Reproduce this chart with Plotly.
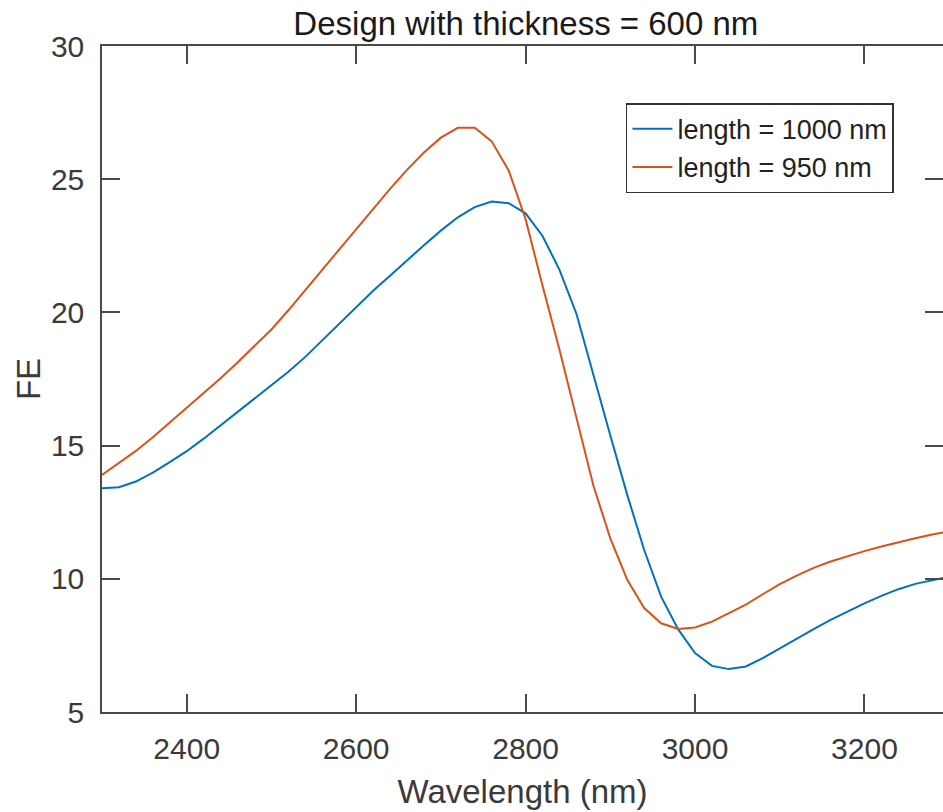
import plotly.graph_objects as go

wavelength = [2300, 2320, 2340, 2360, 2380, 2400, 2420, 2440, 2460, 2480,
              2500, 2520, 2540, 2560, 2580, 2600, 2620, 2640, 2660, 2680,
              2700, 2720, 2740, 2760, 2780, 2800, 2820, 2840, 2860, 2880,
              2900, 2920, 2940, 2960, 2980, 3000, 3020, 3040, 3060, 3080,
              3100, 3120, 3140, 3160, 3180, 3200, 3220, 3240, 3260, 3280, 3300]

fe_len1000 = [13.40, 13.44, 13.65, 13.99, 14.38, 14.79, 15.26, 15.76, 16.24, 16.74,
              17.24, 17.77, 18.33, 18.95, 19.60, 20.22, 20.81, 21.38, 21.96, 22.52,
              23.07, 23.57, 23.95, 24.16, 24.10, 23.72, 22.87, 21.60, 19.95, 17.62,
              15.38, 13.15, 11.08, 9.33, 8.11, 7.21, 6.73, 6.61, 6.71, 7.02,
              7.39, 7.76, 8.11, 8.46, 8.78, 9.08, 9.36, 9.61, 9.81, 9.96, 10.08]

fe_len950 = [13.90, 14.34, 14.80, 15.31, 15.86, 16.40, 16.95, 17.53, 18.12, 18.73,
             19.36, 20.08, 20.84, 21.60, 22.37, 23.12, 23.88, 24.64, 25.35, 26.00,
             26.56, 26.93, 26.93, 26.42, 25.33, 23.50, 21.00, 18.60, 16.05, 13.50,
             11.52, 9.96, 8.90, 8.33, 8.12, 8.17, 8.39, 8.71, 9.03, 9.42,
             9.80, 10.12, 10.41, 10.65, 10.85, 11.04, 11.21, 11.37, 11.52, 11.66, 11.78]

x_ticks = [2400, 2600, 2800, 3000, 3200]
y_ticks = [5, 10, 15, 20, 25, 30]

FONT = "Liberation Sans, Arial, Helvetica, sans-serif"
AX = "#4a4a4a"
TXT = "#3a3a3a"

fig = go.Figure()
fig.add_trace(go.Scatter(x=wavelength, y=fe_len1000, mode="lines",
                         name="length = 1000 nm",
                         line=dict(color="#0072BD", width=2)))
fig.add_trace(go.Scatter(x=wavelength, y=fe_len950, mode="lines",
                         name="length = 950 nm", yaxis="y2",
                         line=dict(color="#D95319", width=2)))

fig.update_layout(
    width=943, height=812,
    margin=dict(l=102, r=0, t=46, b=100),
    paper_bgcolor="white", plot_bgcolor="white",
    font=dict(family=FONT, color=TXT, size=30),
    title=dict(text="Design with thickness = 600 nm",
               font=dict(family=FONT, size=33, color="#1a1a1a"),
               x=0.504, xref="paper", xanchor="center",
               y=1 - 23 / 812, yref="container", yanchor="middle"),
    xaxis=dict(range=[2300, 3292.7], tickvals=x_ticks,
               ticks="inside", ticklen=18, tickwidth=1.5, tickcolor=AX,
               showline=True, linecolor=AX, linewidth=1.5, mirror="ticks",
               showgrid=False, zeroline=False,
               tickfont=dict(size=30, color=TXT), ticklabelstandoff=9,
               title=dict(text="Wavelength (nm)", font=dict(size=33, color=TXT),
                          standoff=16)),
    yaxis=dict(range=[5, 30], tickvals=y_ticks,
               ticks="inside", ticklen=18, tickwidth=1.5, tickcolor=AX,
               showline=True, linecolor=AX, linewidth=1.5, mirror=False,
               showgrid=False, zeroline=False,
               tickfont=dict(size=30, color=TXT), ticklabelstandoff=10,
               title=dict(text="FE", font=dict(size=33, color=TXT), standoff=0)),
    yaxis2=dict(range=[5, 30], tickvals=y_ticks, overlaying="y", side="right",
                matches="y",
                ticks="inside", ticklen=18, tickwidth=1.5, tickcolor=AX,
                showline=False, showgrid=False, zeroline=False,
                showticklabels=False),
    legend=dict(x=0.623, y=0.914, xanchor="left", yanchor="top",
                bgcolor="white", bordercolor="#333333", borderwidth=1.5,
                font=dict(family=FONT, size=27, color="#222222"),
                tracegroupgap=0, itemwidth=40,
                entrywidth=250, entrywidthmode="pixels"),
    showlegend=True,
)

fig.write_html(
    "out.html",
    config={"displayModeBar": False},
    post_script="document.body.style.margin='0';document.body.style.overflow='hidden';",
)
